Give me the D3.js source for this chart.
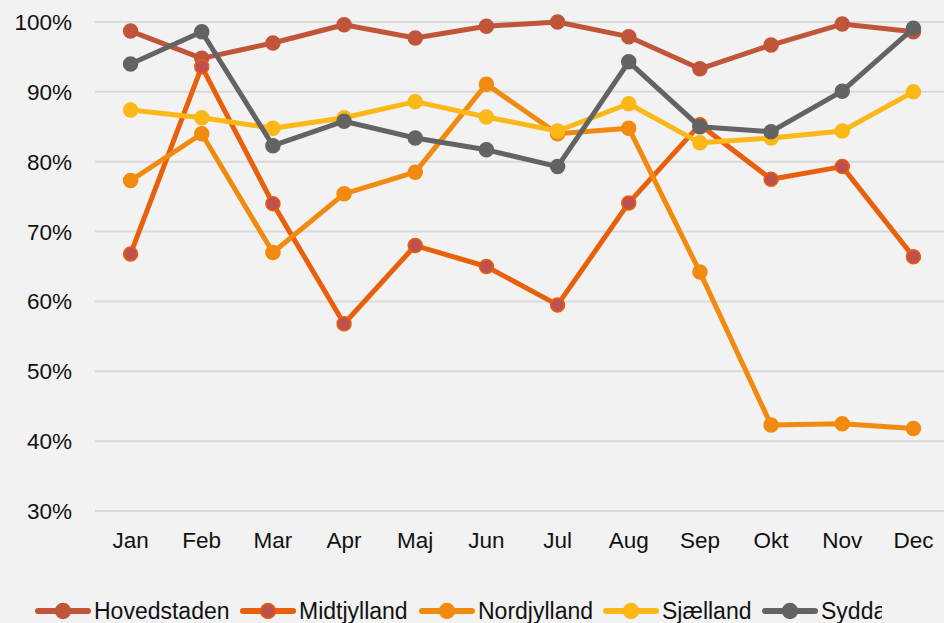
<!DOCTYPE html>
<html>
<head>
<meta charset="utf-8">
<script src="https://cdn.jsdelivr.net/npm/d3@7"></script>
<style>
  body { margin: 0; background: #f2f2f2; }
  svg { display: block; font-family: "Liberation Sans", Arial, sans-serif; }
</style>
</head>
<body>
<svg id="chart" width="944" height="623"></svg>
<script>
var months = ["Jan", "Feb", "Mar", "Apr", "Maj", "Jun", "Jul", "Aug", "Sep", "Okt", "Nov", "Dec"];
var yTicks = [30, 40, 50, 60, 70, 80, 90, 100];

var hovedstaden = [98.7, 94.8, 97.0, 99.6, 97.7, 99.4, 100, 97.9, 93.3, 96.7, 99.7, 98.6];
var midtjylland = [66.8, 93.6, 74.0, 56.8, 68.0, 65.0, 59.5, 74.1, 85.3, 77.5, 79.3, 66.4];
var nordjylland = [77.3, 84.0, 67.0, 75.4, 78.5, 91.1, 84.0, 84.8, 64.2, 42.3, 42.5, 41.8];
var sjaelland   = [87.4, 86.3, 84.8, 86.3, 88.6, 86.4, 84.4, 88.3, 82.7, 83.4, 84.4, 90.0];
var syddanmark  = [94.0, 98.6, 82.3, 85.8, 83.4, 81.7, 79.3, 94.3, 85.0, 84.3, 90.1, 99.1];

var series = [
  {name: "Hovedstaden", values: hovedstaden, color: "#c0553a", fill: "#c0553a"},
  {name: "Midtjylland", values: midtjylland, color: "#e8600c", fill: "#c0504d"},
  {name: "Nordjylland", values: nordjylland, color: "#f28a10", fill: "#f28a10"},
  {name: "Sjælland",    values: sjaelland,   color: "#fbb817", fill: "#fbb817"},
  {name: "Syddanmark",  values: syddanmark,  color: "#636363", fill: "#636363"}
];

var svg = d3.select("#chart");

var x = d3.scaleBand()
    .domain(months)
    .range([95, 949]);

var y = d3.scaleLinear()
    .domain([30, 100])
    .range([511, 22]);

// gridlines
svg.append("g")
  .selectAll("line")
  .data(yTicks)
  .enter().append("line")
    .attr("x1", 95)
    .attr("x2", 944)
    .attr("y1", function(d) { return y(d); })
    .attr("y2", function(d) { return y(d); })
    .attr("stroke", "#d9d9d9")
    .attr("stroke-width", 2);

// y labels
svg.append("g")
  .selectAll("text")
  .data(yTicks)
  .enter().append("text")
    .attr("x", 72)
    .attr("y", function(d) { return y(d) + 8; })
    .attr("text-anchor", "end")
    .attr("font-size", 22.5)
    .attr("fill", "#111")
    .text(function(d) { return d + "%"; });

// x labels
svg.append("g")
  .selectAll("text")
  .data(months)
  .enter().append("text")
    .attr("x", function(d) { return x(d) + x.bandwidth() / 2; })
    .attr("y", 548)
    .attr("text-anchor", "middle")
    .attr("font-size", 22.5)
    .attr("fill", "#111")
    .text(function(d) { return d; });

var line = d3.line()
    .x(function(d, i) { return x(months[i]) + x.bandwidth() / 2; })
    .y(function(d) { return y(d); });

var g = svg.append("g");
series.forEach(function(s) {
  var sg = g.append("g");
  sg.append("path")
    .attr("d", line(s.values))
    .attr("fill", "none")
    .attr("stroke", s.color)
    .attr("stroke-width", 5)
    .attr("stroke-linejoin", "round");
  sg.selectAll("circle")
    .data(s.values)
    .enter().append("circle")
      .attr("cx", function(d, i) { return x(months[i]) + x.bandwidth() / 2; })
      .attr("cy", function(d) { return y(d); })
      .attr("r", 7)
      .attr("fill", s.fill)
      .attr("stroke", s.color)
      .attr("stroke-width", 1.5);
});

// legend (clipped like the original)
svg.append("clipPath").attr("id", "legclip")
  .append("rect").attr("x", 0).attr("y", 580).attr("width", 882).attr("height", 43);

var legend = svg.append("g").attr("clip-path", "url(#legclip)");
var legX = [36, 241, 420, 604, 763];
series.forEach(function(s, i) {
  var lg = legend.append("g").attr("transform", "translate(" + legX[i] + ",611)");
  lg.append("line")
    .attr("x1", 2).attr("x2", 52)
    .attr("stroke", s.color)
    .attr("stroke-width", 6)
    .attr("stroke-linecap", "round");
  lg.append("circle")
    .attr("cx", 27).attr("r", 7.5)
    .attr("fill", s.fill)
    .attr("stroke", s.color)
    .attr("stroke-width", 1.5);
  lg.append("text")
    .attr("x", 58)
    .attr("y", 8)
    .attr("font-size", 23)
    .attr("fill", "#111")
    .text(s.name);
});
</script>
</body>
</html>
